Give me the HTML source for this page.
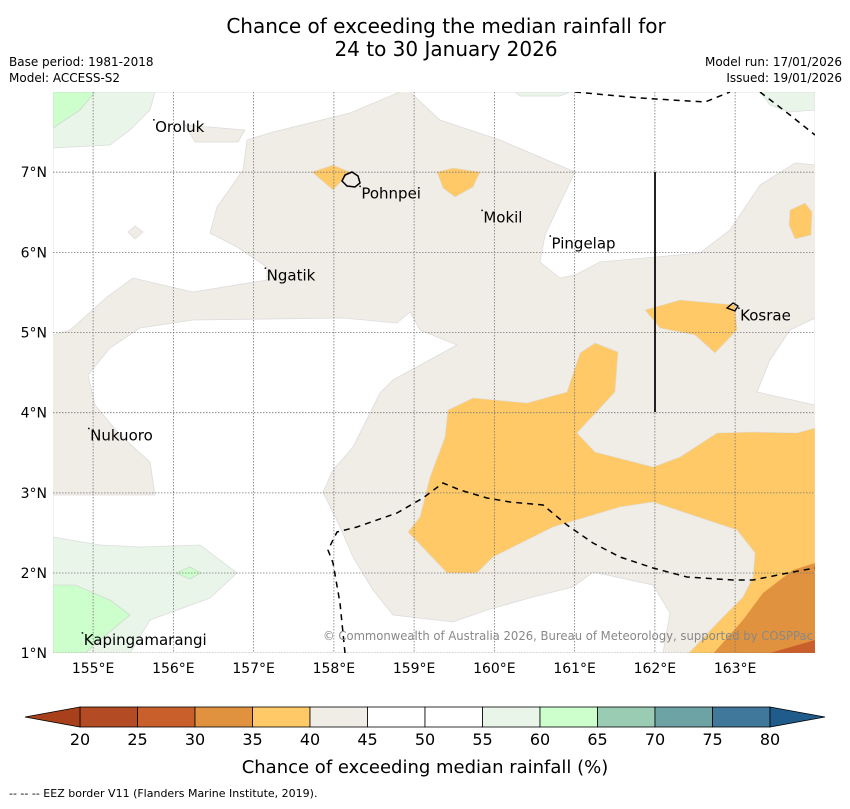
<!DOCTYPE html>
<html><head><meta charset="utf-8"><style>
body{margin:0;background:#fff;font-family:"Liberation Sans","DejaVu Sans",sans-serif;}
svg text{font-family:"DejaVu Sans","Liberation Sans",sans-serif;}
</style></head><body>
<svg id="chart" width="850" height="804" viewBox="0 0 850 804" xmlns="http://www.w3.org/2000/svg">
<text x="446" y="33" font-size="20" text-anchor="middle">Chance of exceeding the median rainfall for</text>
<text x="446" y="56" font-size="20" text-anchor="middle">24 to 30 January 2026</text>
<text x="9" y="66" font-size="12">Base period: 1981-2018</text>
<text x="9" y="82" font-size="12">Model: ACCESS-S2</text>
<text x="842" y="66" font-size="12" text-anchor="end">Model run: 17/01/2026</text>
<text x="842" y="82" font-size="12" text-anchor="end">Issued: 19/01/2026</text>
<defs><clipPath id="mc"><rect x="53" y="92" width="762" height="561"/></clipPath></defs>
<g id="map" clip-path="url(#mc)">
<rect x="53" y="92" width="762" height="561" fill="#f0ece6"/>
<g fill="#fff" stroke="#ddd" stroke-width="0.8">
<polygon points="53,92 400,92 350,113 273,132 247,140 243,170 217,207 210,233 237,247 267,267 267,280 193,292 133,278 107,297 70,330 53,335"/>
<polygon points="410,92 815,92 815,165 795,163 760,185 730,230 700,253 600,262 575,275 560,278 540,262 545,235 575,172 500,140 440,120"/>
<polygon points="53,495 155,495 150,462 120,435 95,405 88,375 110,348 140,328 193,320 343,318 397,323 410,312 420,330 457,345 393,380 380,393 353,447 333,470 323,492 340,527 353,557 373,590 393,615 453,622 487,610 533,597 573,587 593,572 653,585 670,613 663,653 53,653"/>
<polygon points="815,318 790,330 770,360 757,392 815,405"/>
</g>
<g fill="#f0ece6" stroke="#ddd" stroke-width="0.8">
<polygon points="185,125 245,130 238,142 195,142"/>
<polygon points="128,232 135,226 143,232 135,239"/>
</g>
<g fill="#e9f5e9" stroke="#ddd" stroke-width="0.8">
<polygon points="53,92 155,92 150,110 130,130 110,145 53,148"/>
<polygon points="760,92 815,92 815,110 790,112 770,105"/>
<polygon points="515,92 570,92 560,96 520,96"/>
<polygon points="53,537 100,545 140,547 200,545 237,573 210,598 150,620 130,653 53,653"/>
</g>
<g fill="#ccffcc" stroke="#ccc" stroke-width="0.6">
<polygon points="53,92 95,92 80,110 53,128"/>
<polygon points="53,585 75,585 110,600 130,615 100,640 85,653 53,653"/>
<polygon points="176,573 190,567 201,573 190,579"/>
</g>
<g fill="#fec966" stroke="#ddd" stroke-width="0.6">
<polygon points="687,655 720,620 743,597 753,577 755,553 737,530 653,502 620,507 553,527 493,557 477,573 447,573 408,532 420,517 430,477 445,437 448,410 473,398 527,403 567,392 580,353 595,343 618,352 615,392 577,433 595,452 653,467 680,457 717,433 753,432 797,433 815,428 815,655"/>
<polygon points="645,310 680,300 735,305 737,330 715,353 695,335 660,328"/>
<polygon points="790,210 805,203 812,212 811,235 795,239 789,225"/>
<polygon points="312,172 333,165 350,172 333,190"/>
<polygon points="437,172 453,168 480,172 473,187 455,197 443,188"/>
</g>
<polygon fill="#e0923f" points="712,655 743,620 763,593 793,570 815,563 815,655"/>
<polygon fill="#c9602c" points="763,655 815,640 815,655"/>
<g id="grid" stroke="#777" stroke-width="0.8" stroke-dasharray="1.5,1.5"></g>
<path d="M345,653 L340,603 L333,563 L328,550 L337,532 L357,527 L397,513 L423,498 L443,483 L460,490 L487,498 L510,502 L543,505 L567,525 L593,543 L620,557 L653,568 L687,577 L733,580 L753,580 L793,572 L815,568" fill="none" stroke="#000" stroke-width="1.5" stroke-dasharray="6,5"/>
<path d="M575,92 L640,98 L705,102 L730,92 M760,92 L790,115 L815,135" fill="none" stroke="#000" stroke-width="1.5" stroke-dasharray="6,5"/>
<line x1="655" y1="172" x2="655" y2="412" stroke="#222" stroke-width="2"/>
<path d="M345,175 L352,172 L358,176 L360,183 L355,187 L347,186 L342,181 Z" fill="none" stroke="#000" stroke-width="1.5"/>
<path d="M727,308 L733,303 L738,306 L735,311 Z" fill="none" stroke="#000" stroke-width="1.3"/>
<text x="813" y="640" font-size="12" fill="#888" text-anchor="end" textLength="490" lengthAdjust="spacingAndGlyphs">© Commonwealth of Australia 2026, Bureau of Meteorology, supported by COSPPac</text>
<g id="places" font-size="15" fill="#000"></g>
</g>
<g id="axes" font-size="14"></g>
<g id="colorbar"></g>
<text x="425" y="773" font-size="18" text-anchor="middle">Chance of exceeding median rainfall (%)</text>
<text x="9" y="797" font-size="11">--  --  -- EEZ border V11 (Flanders Marine Institute, 2019).</text>
</svg>
<script>
const lonTicks=[155,156,157,158,159,160,161,162,163];
const latTicks=[1,2,3,4,5,6,7];
const placeNames=["Oroluk","Pohnpei","Mokil","Pingelap","Ngatik","Kosrae","Nukuoro","Kapingamarangi"];
const placeLons=[155.76,158.33,159.85,160.7,157.15,163.05,154.95,154.87];
const placeLats=[7.65,6.82,6.52,6.2,5.8,5.3,3.8,1.25];
const cbLevels=[20,25,30,35,40,45,50,55,60,65,70,75,80];
const cbColors=["#b34b24","#c9602c","#e0923f","#fec966","#f0ece6","#ffffff","#ffffff","#e9f5e9","#ccffcc","#99ccb3","#6ea3a6","#3f789a"];
const cbUnder="#a8401c", cbOver="#1f5c8c";
const NS="http://www.w3.org/2000/svg";
function xLon(l){return 53+(l-154.5)*80.25;}
function yLat(l){return 653.2-(l-1)*80.17;}
function cbX(v){return 80+(v-20)*11.5;}
function mk(tag,attrs,parent){const e=document.createElementNS(NS,tag);for(const k in attrs)e.setAttribute(k,attrs[k]);parent.appendChild(e);return e;}
const grid=document.getElementById('grid'),axes=document.getElementById('axes'),places=document.getElementById('places'),cb=document.getElementById('colorbar');
lonTicks.forEach(l=>{
 const g=mk('line',{x1:xLon(l),x2:xLon(l),y1:92,y2:653},grid);
 
 
 const t=mk('text',{x:xLon(l),y:673,'text-anchor':'middle'},axes);t.textContent=l+'°E';
 
 
});
latTicks.forEach(l=>{
 const g=mk('line',{x1:53,x2:815,y1:yLat(l),y2:yLat(l)},grid);
 
 
 const t=mk('text',{x:47,y:yLat(l)+5,'text-anchor':'end'},axes);t.textContent=l+'°N';
 
 
});
placeNames.forEach((n,i)=>{
 const x=xLon(placeLons[i]),y=yLat(placeLats[i]);
 const d=mk('rect',{x:x-1,y:y-1,width:1.5,height:1.5,fill:'#000'},places);
 
 
 const t=mk('text',{x:x+1,y:y+12},places);t.textContent=n;
 
 
});
for(let i=0;i<cbColors.length;i++){
 const r=mk('rect',{x:cbX(cbLevels[i]),y:707,width:cbX(cbLevels[i+1])-cbX(cbLevels[i]),height:20,fill:cbColors[i],stroke:'#000','stroke-width':0.8},cb);
 
 
}
const tu=mk('polygon',{points:`${cbX(20)},707 25,717 ${cbX(20)},727`,fill:cbUnder,stroke:'#000','stroke-width':0.8},cb);


const to=mk('polygon',{points:`${cbX(80)},707 825,717 ${cbX(80)},727`,fill:cbOver,stroke:'#000','stroke-width':0.8},cb);


cbLevels.forEach(v=>{
 const t=mk('text',{x:cbX(v),y:745,'text-anchor':'middle','font-size':16},cb);t.textContent=v;
 
 
});
</script>
</body></html>
